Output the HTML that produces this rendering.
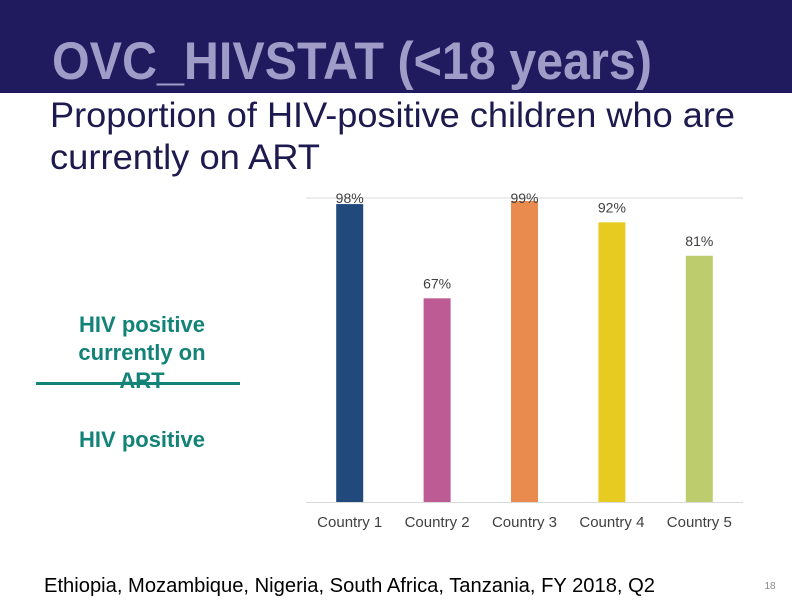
<!DOCTYPE html>
<html><head><meta charset="utf-8"><style>
html,body{margin:0;padding:0;background:#fff;}
svg{display:block;font-family:"Liberation Sans",Arial,sans-serif;}
</style></head><body>
<svg id="s" width="792" height="612" viewBox="0 0 792 612">
<rect x="0" y="0" width="792" height="93" fill="#201a5e"/>
<text x="52" y="79" font-size="53" font-weight="bold" fill="#9f9cc8" textLength="600" lengthAdjust="spacingAndGlyphs">OVC_HIVSTAT (&lt;18 years)</text>
<text x="50" y="127" font-size="35" fill="#1c1a4e" textLength="685" lengthAdjust="spacingAndGlyphs">Proportion of HIV-positive children who are</text>
<text x="50" y="169" font-size="35" fill="#1c1a4e" textLength="270" lengthAdjust="spacingAndGlyphs">currently on ART</text>
<g font-weight="bold" fill="#138378" font-size="22" text-anchor="middle">
<text x="142" y="332">HIV positive</text>
<text x="142" y="360">currently on</text>
<text x="142" y="388">ART</text>
<rect x="36" y="382" width="204" height="3" fill="#138378"/>
<text x="142" y="447">HIV positive</text>
</g>
<g id="chart"></g>
<text x="44" y="592" font-size="20" fill="#000" textLength="611" lengthAdjust="spacingAndGlyphs">Ethiopia, Mozambique, Nigeria, South Africa, Tanzania, FY 2018, Q2</text>
<text x="770" y="589" font-size="10" fill="#888" text-anchor="middle">18</text>
</svg>
<script>
const categories = ["Country 1","Country 2","Country 3","Country 4","Country 5"];
const values = [98, 67, 99, 92, 81];
const valueLabels = ["98%","67%","99%","92%","81%"];
const colors = ["#21497b","#bc5b94","#e98a4f","#e8cb20","#bdcc6c"];
const NS="http://www.w3.org/2000/svg";
const g=document.getElementById('chart');
const x0=306,x1=743,y0=502,pxPer=3.04;
const bw=(x1-x0)/categories.length;
function xC(i){return x0+bw*(i+0.5);}
function yV(v){return y0-v*pxPer;}
function mk(t,a){const e=document.createElementNS(NS,t);for(const k in a)e.setAttribute(k,a[k]);g.appendChild(e);return e;}
let gl=mk('line',{x1:x0,x2:x1,y1:yV(100),y2:yV(100),stroke:'#d9d9d9','stroke-width':1});


let ax=mk('line',{x1:x0,x2:x1,y1:y0+0.5,y2:y0+0.5,stroke:'#d9d9d9','stroke-width':1});


categories.forEach((c,i)=>{
  const top=yV(values[i]);
  const r=mk('rect',{x:xC(i)-13.5,y:top,width:27,height:y0-top,fill:colors[i]});
  
  
  const ly=Math.max(top-10,yV(100)+5);
  const t=mk('text',{x:xC(i),y:ly,'font-size':14,fill:'#404040','text-anchor':'middle'});
  t.textContent=valueLabels[i];
  
  
  const cl=mk('text',{x:xC(i),y:527,'font-size':15,fill:'#404040','text-anchor':'middle'});
  cl.textContent=c;
  
  
});
</script>
</body></html>
